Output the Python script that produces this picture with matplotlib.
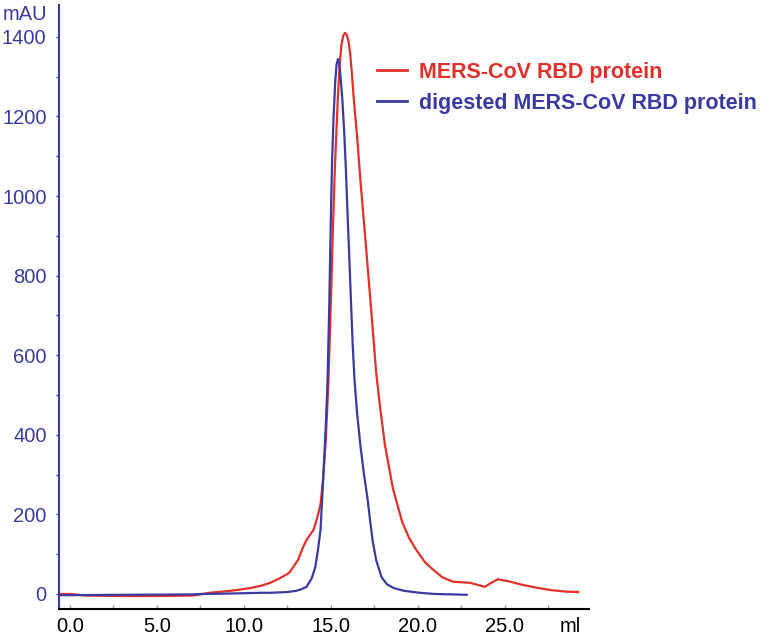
import matplotlib
matplotlib.use("Agg")
import matplotlib.pyplot as plt
from matplotlib.ticker import MultipleLocator, FixedLocator

plt.rcParams['font.family'] = ['Liberation Sans', 'DejaVu Sans']

# Red: MERS-CoV RBD protein (ml, mAU)
red_ml = [-0.6, 0.0, 1.0, 3.0, 5.0, 7.0, 7.5, 8.0, 9.0, 9.6, 10.5, 11.0, 11.5, 12.0,
          12.6, 13.1, 13.4, 13.6, 14.0, 14.2, 14.4, 14.55, 14.7, 14.85, 15.0, 15.1,
          15.2, 15.3, 15.4, 15.5, 15.6, 15.7, 15.8, 15.9, 16.0, 16.1, 16.2, 16.3,
          16.5, 16.7, 17.0, 17.3, 17.6, 17.85, 18.1, 18.56, 19.1, 19.5, 19.9, 20.4,
          20.9, 21.4, 22.0, 23.0, 23.5, 23.85, 24.2, 24.6, 25.2, 26.0, 26.8, 27.6,
          28.5, 29.2]
red_mau = [0, 0, -4, -5, -5, -4, -1, 3, 7, 10, 16, 21, 28, 38,
           53, 85, 118, 136, 161, 190, 225, 290, 385, 530, 740, 900,
           1040, 1150, 1250, 1330, 1380, 1402, 1410, 1406, 1390, 1360, 1310, 1250,
           1150, 1035, 880, 720, 555, 460, 375, 265, 180, 140, 111, 80,
           60, 42, 31, 28, 22, 18, 28, 37, 32, 23, 16, 10,
           6, 5]

# Blue: digested MERS-CoV RBD protein (ml, mAU)
blue_ml = [-0.6, 0.0, 3.0, 7.0, 7.5, 9.0, 10.0, 11.0, 11.5, 12.5, 13.0, 13.3, 13.6,
           13.9, 14.1, 14.25, 14.4, 14.55, 14.7, 14.8, 14.9, 15.0, 15.06, 15.15,
           15.25, 15.32, 15.4, 15.47, 15.55, 15.65, 15.75, 15.85, 15.95, 16.05, 16.15,
           16.25, 16.35, 16.5, 16.7, 16.9, 17.1, 17.25, 17.4, 17.6, 17.9, 18.2, 18.6,
           19.2, 20.1, 21.0, 22.0, 22.8]
blue_mau = [-3, -3, -2, -1, 0, 1, 2, 3, 3, 5, 8, 12, 18,
            40, 68, 110, 161, 286, 420, 530, 720, 960, 1080, 1200,
            1290, 1330, 1344, 1335, 1300, 1245, 1170, 1075, 960, 850, 735,
            625, 540, 455, 370, 300, 240, 185, 132, 85, 43, 25, 15,
            8, 3, 0, -1, -2]

series_labels = ['MERS-CoV RBD protein', 'digested MERS-CoV RBD protein']
x_major = [0.0, 5.0, 10.0, 15.0, 20.0, 25.0]
x_labels = ['0.0', '5.0', '10.0', '15.0', '20.0', '25.0']
y_major = [0, 200, 400, 600, 800, 1000, 1200, 1400]

RED = '#e2302a'
BLUE = '#3a3aa0'

fig = plt.figure(figsize=(7.75, 6.39), dpi=100)
ax = fig.add_axes([59/775, 1-609/639, (589-59)/775, (609-5)/639])

ax.plot(red_ml, red_mau, color=RED, lw=1.6, label=series_labels[0])
ax.plot(blue_ml, blue_mau, color=BLUE, lw=1.6, label=series_labels[1])

ax.set_xlim(-0.63, 29.83)
ax.set_ylim(-37.7, 1480)

for s in ['top', 'right']:
    ax.spines[s].set_visible(False)
ax.spines['left'].set_color(BLUE)
ax.spines['left'].set_linewidth(1.5)
ax.spines['bottom'].set_color('black')
ax.spines['bottom'].set_linewidth(1.5)

ax.xaxis.set_major_locator(FixedLocator(x_major))
ax.set_xticklabels(x_labels)
ax.xaxis.set_minor_locator(MultipleLocator(2.5))
ax.yaxis.set_major_locator(FixedLocator(y_major))
ax.yaxis.set_minor_locator(MultipleLocator(100))

ax.tick_params(axis='x', which='both', direction='in', length=3, width=1, color='#999999',
               labelsize=14.5, labelcolor='black', pad=6)
ax.tick_params(axis='y', which='both', direction='out', length=2, width=1, color=BLUE,
               labelsize=14.5, labelcolor=BLUE, pad=7)

fig.text(25/775, 1-15/639, 'mAU', color=BLUE, fontsize=14.5, ha='center', va='center')
fig.text(570/775, 1-626/639, 'ml', color='black', fontsize=14.5, ha='center', va='center')

leg = ax.legend(loc='upper left', bbox_to_anchor=(377/775, 1-62/639),
                bbox_transform=fig.transFigure, frameon=False,
                prop={'size': 15.5, 'weight': 'bold'}, handlelength=1.4,
                handletextpad=0.55, labelspacing=0.45, borderpad=0, borderaxespad=0)
for txt, c in zip(leg.get_texts(), [RED, BLUE]):
    txt.set_color(c)
for h in leg.legend_handles:
    h.set_linewidth(2)

fig.savefig('out.png', dpi=100)
